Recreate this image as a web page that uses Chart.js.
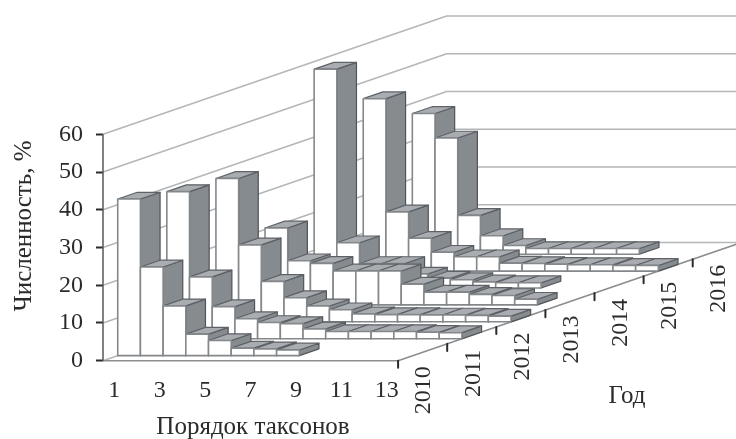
<!DOCTYPE html>
<html lang="ru">
<head>
<meta charset="utf-8">
<title>Численность по порядку таксонов</title>
<style>
  html, body { margin: 0; padding: 0; background: #fff; }
  canvas { display: block; }
</style>
<script src="https://cdn.jsdelivr.net/npm/chart.js@4"></script>
</head>
<body>
<canvas id="chart" width="736" height="439"></canvas>
<script>
// Share of each taxon rank (%), one list per year, ordered from rank 1.
const years = ['2010', '2011', '2012', '2013', '2014', '2015', '2016'];
const taxa2010 = [41.5, 23.5, 13.2, 5.7, 4, 2, 1.8, 1.5];
const taxa2011 = [39, 16.4, 8.5, 5.3, 4.3, 4, 2.6, 1.9, 1.9, 1.9, 1.9, 1.7, 1.6];
const taxa2012 = [38, 20.4, 10.7, 6.4, 4.2, 3.2, 2.1, 1.9, 1.9, 1.8, 1.8, 1.7, 1.5];
const taxa2013 = [20.4, 11.7, 11, 9, 9, 9, 5.5, 3.4, 3.4, 2.8, 2.5, 1.5];
const taxa2014 = [58, 12, 6.5, 6.5, 3.7, 2.6, 2.2, 1.6, 1.4, 1.4];
const taxa2015 = [45.7, 15.7, 8.7, 5, 3.8, 3.8, 2.1, 2, 1.8, 1.7, 1.7, 1.5, 1.5];
const taxa2016 = [37.3, 30.8, 10.3, 4.9, 2.3, 1.5, 1.5, 1.5, 1.5, 1.5];
const rows = [taxa2010, taxa2011, taxa2012, taxa2013, taxa2014, taxa2015, taxa2016];
const rankLabels = ['1', '3', '5', '7', '9', '11', '13'];
const valueTicks = [0, 10, 20, 30, 40, 50, 60];
const rankCount = 13;

// Oblique projection: one year of depth shifts a point by these amounts in
// axis units (ranks horizontally, percent vertically).
const DEPTH_X = 2.163;
const DEPTH_Y = 4.48;
const BAR_NEAR = 0.3;
const BAR_FAR = 0.7;
const project = (rank, value, depth) => ({ x: rank + depth * DEPTH_X, y: value + depth * DEPTH_Y });

const LINE = { borderColor: '#b4b6b8', borderWidth: 1.5 };
const FLOOR = { borderColor: '#8c8e90', borderWidth: 1.5 };
const MARK = { borderColor: '#2b2b2b', borderWidth: 2 };

const paths = [];
const addPath = (data, style) => paths.push(Object.assign({
  data, showLine: true, pointRadius: 0, fill: false, clip: false
}, style));

// Walls: each gridline climbs the left wall, then runs along the back wall.
const depthCount = years.length;
const rightEnd = 28;
valueTicks.forEach(v => {
  const back = project(0, v, depthCount);
  addPath([project(0, v, 0), back, { x: rightEnd, y: back.y }], LINE);
});
// Floor outline and the vertical axis line.
addPath([project(0, 0, 0), project(rankCount, 0, 0)], FLOOR);
addPath([project(rankCount, 0, 0), project(rankCount, 0, depthCount)], FLOOR);
addPath([{ x: 0, y: 0 }, { x: 0, y: 60 }], { borderColor: '#55585a', borderWidth: 1.5 });
// Tick marks along the depth edge of the floor.
for (let j = 0; j <= depthCount; j++) {
  const p = project(rankCount, 0, j);
  addPath([p, { x: p.x, y: p.y - 1.9 }], MARK);
}

// Bars are painted back row first and left to right so nearer faces cover farther ones.
for (let j = depthCount - 1; j >= 0; j--) {
  rows[j].forEach((v, i) => {
    const a = j + BAR_NEAR, b = j + BAR_FAR;
    addPath([project(i + 1, 0, a), project(i + 1, 0, b), project(i + 1, v, b), project(i + 1, v, a), project(i + 1, 0, a)],
      { fill: 'shape', backgroundColor: '#868b90', borderColor: '#505458', borderWidth: 1.2 });
    addPath([project(i, v, a), project(i + 1, v, a), project(i + 1, v, b), project(i, v, b), project(i, v, a)],
      { fill: 'shape', backgroundColor: '#a9acb0', borderColor: '#5e6266', borderWidth: 1.2 });
    addPath([project(i, 0, a), project(i + 1, 0, a), project(i + 1, v, a), project(i, v, a), project(i, 0, a)],
      { fill: 'shape', backgroundColor: '#ffffff', borderColor: '#84888b', borderWidth: 1.6 });
  });
}
// Chart.js paints lower "order" last, so later paths end up on top.
paths.forEach((p, k) => { p.order = -k; });

const FONT_FAMILY = '"Liberation Serif", "Times New Roman", serif';
const FONT_SIZE = 24;
const TITLE_SIZE = 25;
const TEXT_COLOR = '#2b2b2b';

// Draws axis titles and year labels, which sit along the oblique floor edge.
const obliqueText = {
  id: 'obliqueText',
  afterDraw(chart) {
    const { ctx, scales: { x, y } } = chart;
    ctx.save();
    ctx.fillStyle = TEXT_COLOR;
    ctx.textAlign = 'center';
    ctx.textBaseline = 'middle';
    const vertical = (text, px, py) => {
      ctx.save();
      ctx.translate(px, py);
      ctx.rotate(-Math.PI / 2);
      ctx.fillText(text, 0, 0);
      ctx.restore();
    };
    ctx.font = TITLE_SIZE + 'px ' + FONT_FAMILY;
    ctx.fillText('Порядок таксонов', 253, 427);
    ctx.fillText('Год', 627, 396);
    vertical('Численность, %', 24, 226);
    ctx.font = FONT_SIZE + 'px ' + FONT_FAMILY;
    years.forEach((year, j) => {
      const p = project(rankCount, 0, j + 0.5);
      vertical(year, x.getPixelForValue(p.x) + 1.5, y.getPixelForValue(p.y) + 38);
    });
    ctx.restore();
  }
};

new Chart(document.getElementById('chart'), {
  type: 'scatter',
  data: { datasets: paths },
  plugins: [obliqueText],
  options: {
    responsive: false,
    animation: false,
    events: [],
    layout: { padding: 0 },
    elements: { line: { tension: 0, borderJoinStyle: 'round', borderCapStyle: 'butt' } },
    plugins: { legend: { display: false }, tooltip: { enabled: false }, title: { display: false } },
    scales: {
      x: {
        type: 'linear',
        position: 'bottom',
        min: 0,
        max: (736 - 103) / 22.7,
        afterFit(axis) {
          axis.height = 439 - 360.7;
          axis.paddingLeft = 0;
          axis.paddingRight = 0;
        },
        border: { display: false },
        grid: { display: false },
        afterBuildTicks(axis) {
          axis.ticks = rankLabels.map((_, k) => ({ value: 0.5 + k * 2 }));
        },
        ticks: {
          autoSkip: false,
          maxRotation: 0,
          padding: 8,
          color: TEXT_COLOR,
          font: { family: FONT_FAMILY, size: FONT_SIZE },
          callback: (value) => rankLabels[Math.round((value - 0.5) / 2)]
        }
      },
      y: {
        type: 'linear',
        position: 'left',
        min: 0,
        max: 360.7 / 3.773,
        afterFit(axis) {
          axis.width = 103;
          axis.paddingTop = 0;
          axis.paddingBottom = 0;
        },
        border: { display: false },
        grid: { drawOnChartArea: false, drawTicks: true, tickLength: 7, tickColor: '#2b2b2b', tickWidth: 2 },
        afterBuildTicks(axis) {
          axis.ticks = valueTicks.map(value => ({ value }));
        },
        ticks: {
          autoSkip: false,
          padding: 13,
          color: TEXT_COLOR,
          font: { family: FONT_FAMILY, size: FONT_SIZE }
        }
      }
    }
  }
});
</script>
</body>
</html>
